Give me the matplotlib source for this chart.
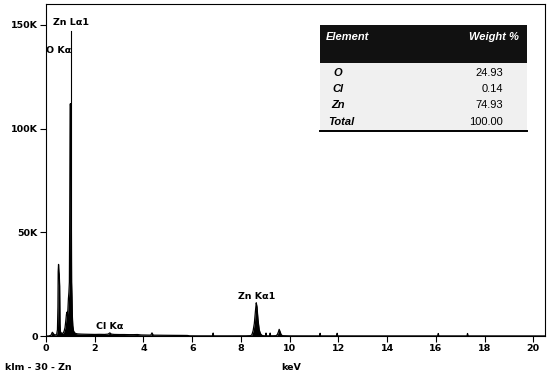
import matplotlib
matplotlib.use("Agg")
import matplotlib.pyplot as plt
from matplotlib.patches import Rectangle

# ---------------- data ----------------
energy_kev = [0.00, 0.10, 0.20, 0.26, 0.30, 0.34, 0.40, 0.44, 0.47, 0.49, 0.50, 0.515, 0.53,
              0.545, 0.56, 0.575, 0.59, 0.62, 0.66, 0.70, 0.74, 0.78, 0.81, 0.84, 0.86,
              0.88, 0.90, 0.92, 0.94, 0.96, 0.975, 0.99, 1.005, 1.02, 1.035, 1.05, 1.065,
              1.08, 1.10, 1.13, 1.17, 1.22, 1.30, 1.45, 1.60, 1.80, 2.00, 2.20, 2.40,
              2.55, 2.62, 2.68, 2.80, 3.00, 3.20, 3.40, 3.60, 3.75, 3.90, 4.10, 4.30,
              4.35, 4.40, 4.60, 4.80, 5.00, 5.30, 5.60, 5.80, 5.90, 6.20, 6.84, 6.86,
              6.88, 7.50, 8.20, 8.40, 8.45, 8.50, 8.55, 8.60, 8.63, 8.66, 8.70, 8.75,
              8.80, 8.85, 8.90, 9.01, 9.03, 9.05, 9.18, 9.20, 9.22, 9.45, 9.50, 9.54,
              9.57, 9.61, 9.65, 9.70, 10.0, 11.23, 11.25, 11.27, 11.93, 11.95, 11.97,
              13.0, 16.08, 16.10, 16.12, 17.28, 17.30, 17.32, 20.5]
counts = [0, 0, 300, 1800, 1200, 600, 500, 900, 3000, 14000, 31000, 34500, 31000,
          29500, 24000, 6000, 2200, 1500, 1200, 1400, 2200, 4000, 7000, 10500, 11500,
          10000, 13000, 18000, 21000, 26000, 60000, 111500, 112000, 109000, 70000, 26000, 19000,
          10000, 5000, 2500, 1600, 1200, 1000, 900, 850, 800, 750, 800, 750,
          900, 1500, 900, 750, 700, 700, 650, 650, 700, 500, 450, 400,
          1500, 400, 380, 350, 330, 300, 280, 250, 80, 60, 60, 1400,
          60, 60, 80, 150, 600, 2500, 6000, 12500, 16000, 14000, 8000, 3000,
          1200, 400, 150, 80, 1400, 80, 80, 1400, 80, 150, 800, 2000,
          3200, 2000, 700, 150, 60, 50, 1300, 50, 50, 1300, 50,
          40, 40, 1200, 40, 40, 1200, 40, 30]

# peak markers (name, line energy, marker height, label height)
peak_names = ["Zn L\u03b11", "O K\u03b1", "Cl K\u03b1", "Zn K\u03b11"]
peak_energy = [1.012, 0.525, 2.62, 8.64]
marker_top = [147000, 0, 0, 0]
label_y = [151000, 137500, 4800, 18800]

y_ticks = [0, 50000, 100000, 150000]
y_tick_labels = ["0", "50K", "100K", "150K"]
x_ticks = list(range(0, 21, 2))

table_elements = ["O", "Cl", "Zn", "Total"]
table_weights = ["24.93", "0.14", "74.93", "100.00"]

# ---------------- figure ----------------
fig = plt.figure(figsize=(5.5, 3.76), dpi=100)
ax = fig.add_axes([46 / 550, 1 - 336 / 376, (545 - 46) / 550, (336 - 4) / 376])

ax.fill_between(energy_kev, counts, 0, color="black", lw=0)
ax.plot(energy_kev, counts, color="black", lw=0.9)

for name, e, mt, ly in zip(peak_names, peak_energy, marker_top, label_y):
    if mt > 0:
        ax.plot([e, e], [0, mt], color="black", lw=0.8)
    ax.text(e, ly, name, ha="center", va="center", fontsize=6.8,
            fontweight="bold", family="DejaVu Sans")

ax.set_xlim(0, 20.48)
ax.set_ylim(0, 160000)
ax.set_xticks(x_ticks)
ax.set_xticklabels([str(v) for v in x_ticks])
ax.set_yticks(y_ticks)
ax.set_yticklabels(y_tick_labels)
ax.tick_params(axis="both", direction="out", length=4, width=0.8, labelsize=6.8, pad=2)
for lab in ax.get_xticklabels() + ax.get_yticklabels():
    lab.set_fontweight("bold")
for sp in ax.spines.values():
    sp.set_linewidth(0.8)

fig.text(5 / 550, 1 - 368 / 376, "klm - 30 - Zn", fontsize=6.8, fontweight="bold",
         ha="left", va="center")
fig.text(291 / 550, 1 - 368 / 376, "keV", fontsize=6.8, fontweight="bold",
         ha="center", va="center")

# ---------------- table ----------------
W, H = 550.0, 376.0
def fx(px):
    return px / W
def fy(py):
    return 1 - py / H

tx0, tx1 = 320, 527
fig.patches.append(Rectangle((fx(tx0), fy(131)), fx(tx1) - fx(tx0), fy(63) - fy(131),
                             transform=fig.transFigure, facecolor="#f0f0f0",
                             edgecolor="none", zorder=5))
fig.patches.append(Rectangle((fx(tx0), fy(63)), fx(tx1) - fx(tx0), fy(25) - fy(63),
                             transform=fig.transFigure, facecolor="#111111",
                             edgecolor="none", zorder=6))
fig.add_artist(plt.Line2D([fx(tx0), fx(tx1)], [fy(131), fy(131)], color="black",
                          lw=1.4, transform=fig.transFigure, zorder=7))

tfont = "Liberation Sans"
fs = 8
fig.text(fx(326), fy(37), "Element", color="white", fontsize=fs, fontweight="bold",
         style="italic", family=tfont, ha="left", va="center", zorder=8)
fig.text(fx(519), fy(37), "Weight %", color="white", fontsize=fs, fontweight="bold",
         style="italic", family=tfont, ha="right", va="center", zorder=8)
row_y = [73, 89, 105, 122]
for el, wt, ry in zip(table_elements, table_weights, row_y):
    if el == "Total":
        fig.text(fx(328), fy(ry), el, fontsize=fs, fontweight="bold", style="italic",
                 family=tfont, ha="left", va="center", zorder=8)
    else:
        fig.text(fx(338), fy(ry), el, fontsize=fs, fontweight="bold", style="italic",
                 family=tfont, ha="center", va="center", zorder=8)
    fig.text(fx(503), fy(ry), wt, fontsize=fs, family=tfont, ha="right",
             va="center", zorder=8)

fig.savefig("out.png", dpi=100)
